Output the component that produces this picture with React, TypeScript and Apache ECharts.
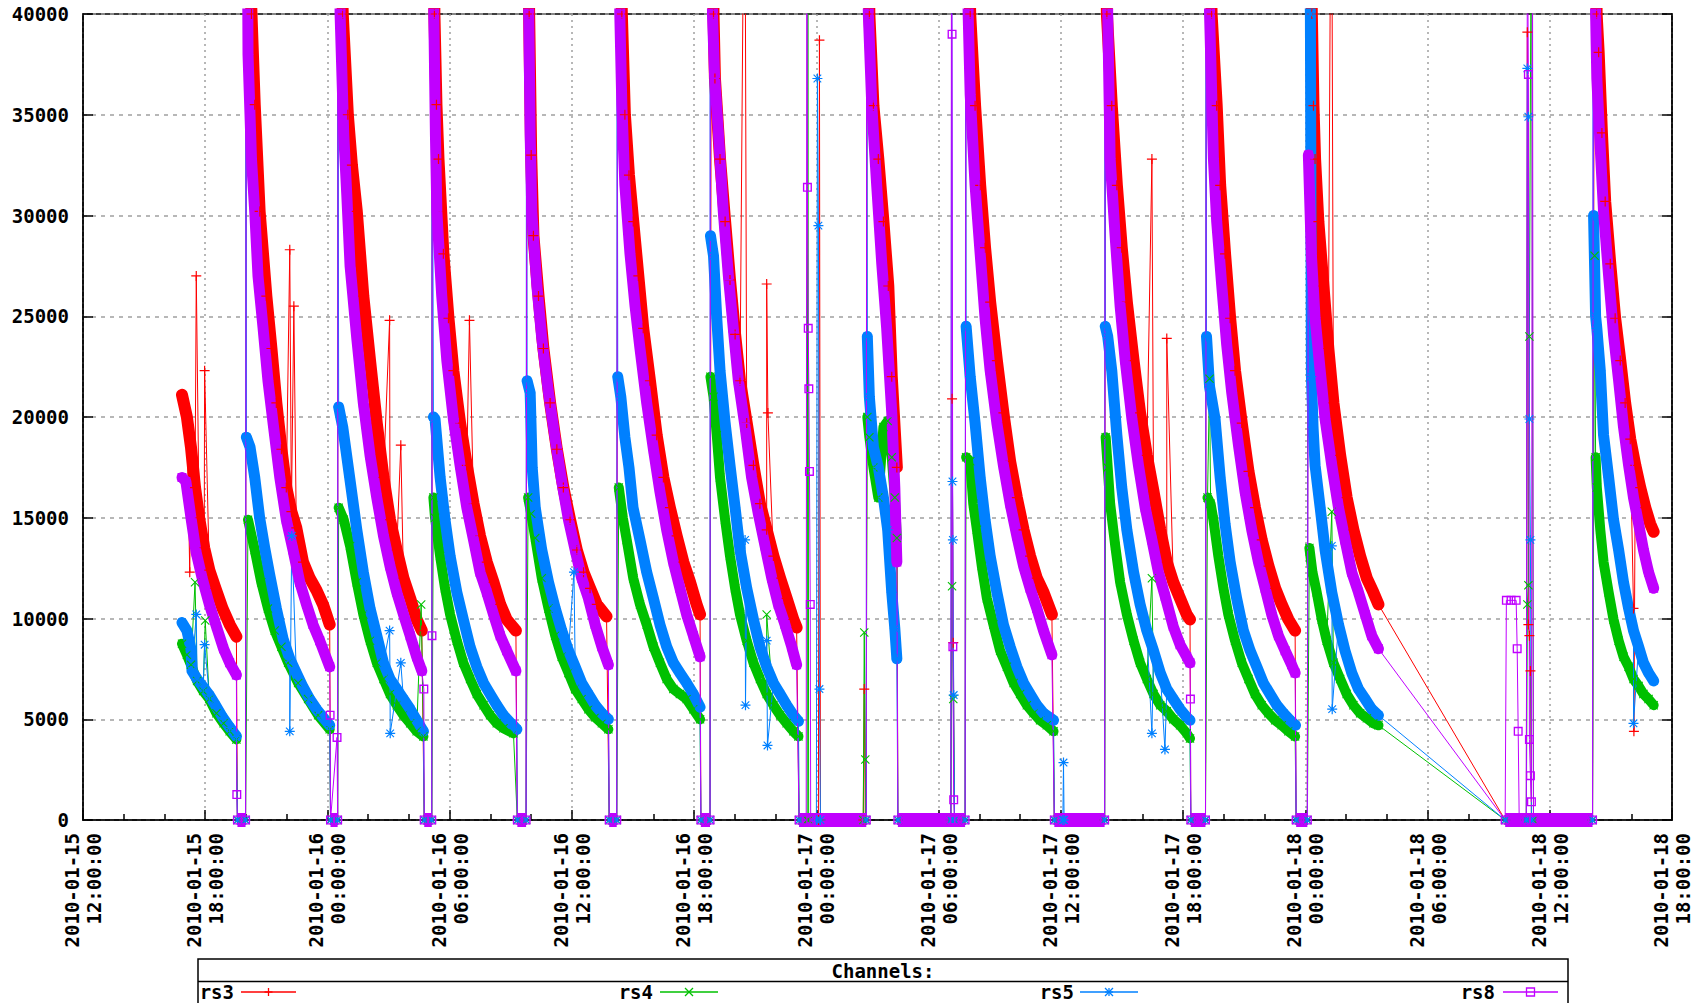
import React, { useEffect, useRef } from "react";
import * as echarts from "echarts";

// x values: hours after 2010-01-15 12:00:00
const X_MIN = 0;
const X_MAX = 78;
const Y_MAX = 40000;

const zeroSpans: [number, number][] = [
  [7.58, 7.98], [12.15, 12.5], [16.75, 17.12], [21.32, 21.75], [25.83, 26.2], [30.33, 30.78],
  [35.15, 38.45], [40.0, 43.3], [47.68, 50.15], [54.38, 55.1], [59.55, 60.1], [69.81, 74.1],
];

const rs3Cycles: [number, number][][] = [
  [[4.86,21100],[5.1,20000],[5.3,18500],[5.5,16500],[5.7,15000],[5.95,13500],[6.2,12400],[6.5,11500],[6.85,10500],[7.2,9700],[7.53,9100]],
  [[8.02,48000],[8.27,40000],[8.43,35500],[8.67,30200],[9.0,26000],[9.25,23400],[9.49,20700],[9.74,18400],[9.98,16500],[10.23,15300],[10.47,14500],[10.8,12800],[11.13,12000],[11.46,11400],[11.78,10700],[12.11,9700]],
  [[12.52,50000],[12.75,40000],[13.0,35000],[13.2,32500],[13.44,30200],[13.76,26000],[14.09,22800],[14.42,19700],[14.75,17000],[15.07,14900],[15.4,13400],[15.73,12000],[16.06,11000],[16.38,9950],[16.63,9400]],
  [[17.15,50000],[17.25,40000],[17.35,35500],[17.45,32800],[17.69,28100],[17.94,24900],[18.18,22300],[18.51,19700],[18.84,17600],[19.17,15700],[19.49,14100],[19.82,12800],[20.15,11800],[20.48,10700],[20.8,9950],[21.25,9400]],
  [[21.8,50000],[21.9,40000],[22.0,33000],[22.11,29000],[22.36,26000],[22.6,23400],[22.93,20700],[23.26,18400],[23.58,16500],[23.91,14900],[24.24,13400],[24.57,12300],[24.89,11500],[25.22,10700],[25.7,10100]],
  [[26.25,50000],[26.45,40000],[26.6,35000],[26.8,32000],[27.01,29700],[27.26,27000],[27.5,24400],[27.83,21800],[28.16,19100],[28.49,17000],[28.81,15500],[29.14,14100],[29.47,12800],[29.8,11800],[30.12,10700],[30.29,10200]],
  [[30.85,50000],[30.95,40000],[31.02,36800],[31.27,32800],[31.52,29700],[31.76,26800],[32.01,24100],[32.25,21800],[32.58,19700],[32.91,17600],[33.23,15700],[33.56,14400],[33.89,13100],[34.22,12000],[34.54,11000],[34.87,9950],[35.03,9550]],
  [[38.5,50000],[38.6,40000],[38.8,35450],[39.04,32800],[39.29,29700],[39.53,26500],[39.7,22000],[39.95,17500]],
  [[43.35,50000],[43.55,40000],[43.79,35450],[44.04,31500],[44.28,28400],[44.53,25700],[44.86,22800],[45.18,20200],[45.51,17800],[45.84,16000],[46.17,14400],[46.49,13100],[46.82,12000],[47.15,11300],[47.56,10200]],
  [[50.2,50000],[50.26,40000],[50.5,35450],[50.75,31500],[50.99,28400],[51.24,25700],[51.57,22800],[51.89,20200],[52.22,18100],[52.55,16300],[52.88,14400],[53.2,12800],[53.52,11800],[53.85,11000],[54.18,10200],[54.34,9950]],
  [[55.15,50000],[55.4,40000],[55.65,35450],[55.82,31500],[56.06,28100],[56.31,24900],[56.55,22300],[56.88,19700],[57.21,17300],[57.53,15500],[57.86,13900],[58.19,12600],[58.52,11500],[58.84,10700],[59.17,9950],[59.5,9400]],
  [[60.15,50000],[60.32,40000],[60.4,35450],[60.48,32800],[60.64,29700],[60.89,26500],[61.13,23400],[61.38,20700],[61.71,18100],[62.03,16000],[62.36,14400],[62.69,13100],[63.02,12000],[63.34,11300],[63.59,10700]],
  [[74.2,50000],[74.3,40000],[74.4,38100],[74.56,34100],[74.72,30700],[74.97,27600],[75.21,24900],[75.46,22800],[75.7,20700],[75.95,18900],[76.2,17600],[76.44,16500],[76.69,15500],[76.93,14700],[77.1,14300]],
];
const rs3Spikes: [number, number][] = [
  [5.24,12300],[5.56,27000],[5.97,22300],[10.15,28300],[10.35,25500],[15.05,24800],[15.6,18600],[18.97,24800],
  [32.48,52000],[33.56,26600],[33.62,20200],[36.1,0],[36.15,38700],[36.2,0],[38.3,0],[38.35,6500],[38.4,0],
  [42.6,0],[42.66,20900],[42.72,8800],[42.78,0],[52.47,32800],[53.2,23900],[61.28,52000],
  [70.85,0],[70.9,39100],[70.95,9700],[71.0,9150],[71.05,7400],[71.1,0],[76.11,10500],[76.13,4400],
];

const rs4Cycles: [number, number][][] = [
  [[4.86,8750],[5.1,8200],[5.3,7700],[5.6,6900],[5.9,6400],[6.2,6000],[6.55,5300],[6.9,4800],[7.2,4400],[7.53,4000]],
  [[8.1,14900],[8.43,13400],[8.75,11800],[9.08,10500],[9.41,9400],[9.74,8600],[10.07,7800],[10.56,6800],[11.05,6000],[11.54,5200],[12.11,4500]],
  [[12.55,15500],[12.8,14900],[13.11,13600],[13.44,11800],[13.76,10200],[14.09,8900],[14.42,7800],[14.75,7000],[15.07,6250],[15.4,5700],[15.73,5200],[16.06,4800],[16.38,4400],[16.71,4150]],
  [[17.2,16000],[17.28,15000],[17.53,13100],[17.77,11500],[18.02,10200],[18.35,8900],[18.67,7800],[19.0,7000],[19.33,6250],[19.66,5700],[19.98,5200],[20.31,4800],[20.64,4550],[21.13,4300]],
  [[21.85,16000],[22.0,15200],[22.2,14000],[22.52,12000],[22.85,10500],[23.18,9150],[23.5,8100],[23.83,7300],[24.16,6500],[24.48,6000],[24.81,5500],[25.14,5100],[25.47,4800],[25.79,4500]],
  [[26.3,16500],[26.5,15000],[26.69,13900],[27.01,12000],[27.34,10700],[27.67,9700],[28.0,8600],[28.32,7800],[28.65,7000],[28.98,6500],[29.3,6250],[29.63,6000],[29.96,5500],[30.29,5000]],
  [[30.8,22000],[30.95,21000],[31.11,19100],[31.27,17000],[31.52,14900],[31.76,13100],[32.01,11500],[32.25,10200],[32.58,8900],[32.91,7800],[33.23,7000],[33.56,6250],[33.89,5700],[34.22,5200],[34.54,4800],[34.87,4400],[35.12,4150]],
  [[38.5,20000],[38.6,19000],[38.8,17500],[39.04,16000],[39.29,19500],[39.5,19800],[39.7,18000],[39.85,16000],[39.95,14000]],
  [[43.35,18000],[43.55,17800],[43.7,15700],[43.88,14400],[44.12,12600],[44.37,11000],[44.69,9700],[45.02,8400],[45.35,7600],[45.68,6800],[46.0,6250],[46.33,5700],[46.66,5300],[46.98,4950],[47.31,4700],[47.64,4400]],
  [[50.2,19000],[50.3,17500],[50.42,15700],[50.67,13600],[50.91,11800],[51.24,10200],[51.57,8900],[51.89,7800],[52.22,7000],[52.55,6250],[52.88,5700],[53.2,5400],[53.52,5000],[53.85,4700],[54.18,4300],[54.34,4050]],
  [[55.2,16000],[55.35,15700],[55.49,14900],[55.73,13100],[55.98,11500],[56.22,10200],[56.55,8900],[56.88,7800],[57.21,7000],[57.53,6250],[57.86,5700],[58.19,5300],[58.52,4950],[58.84,4700],[59.17,4400],[59.5,4150]],
  [[60.2,13500],[60.35,12300],[60.56,11300],[60.81,9950],[61.05,8900],[61.38,7800],[61.71,7000],[62.03,6250],[62.36,5700],[62.69,5300],[63.02,5050],[63.34,4800],[63.59,4700]],
  [[74.25,18000],[74.31,16500],[74.48,14400],[74.64,12800],[74.89,11300],[75.13,9950],[75.38,8900],[75.62,8100],[75.87,7600],[76.11,7000],[76.36,6650],[76.6,6250],[76.85,6000],[77.1,5700]],
];
const rs4Spikes: [number, number][] = [
  [5.5,11800],[6.0,9900],[16.6,10700],[33.56,10200],
  [35.55,0],[35.58,48000],[35.62,0],[38.3,0],[38.35,9300],[38.4,3000],[38.43,0],
  [42.6,0],[42.66,11600],[42.72,6000],[42.78,0],[52.47,12000],[55.3,21900],[61.3,15300],
  [70.85,0],[70.9,10700],[70.95,11650],[71.0,24000],[71.1,48000],[71.2,0],[74.2,28000],
];

const rs5Cycles: [number, number][][] = [
  [[4.86,9800],[5.1,9400],[5.3,8500],[5.35,7400],[5.6,7000],[5.9,6600],[6.2,6200],[6.5,5700],[6.85,5100],[7.2,4600],[7.53,4150]],
  [[8.02,19000],[8.2,18500],[8.43,17000],[8.67,15000],[8.92,13500],[9.16,12200],[9.49,10500],[9.82,9000],[10.15,8000],[10.47,7300],[10.8,6600],[11.13,6000],[11.46,5500],[11.78,5100],[12.11,4700]],
  [[12.55,20500],[12.75,19500],[13.09,17000],[13.44,14400],[13.76,12300],[14.09,10500],[14.42,9150],[14.75,7800],[15.07,7000],[15.4,6500],[15.73,6000],[16.06,5500],[16.38,4950],[16.71,4400]],
  [[17.2,20000],[17.28,19900],[17.53,17000],[17.77,14900],[18.02,13100],[18.35,11300],[18.67,9950],[19.0,8600],[19.33,7600],[19.66,6800],[19.98,6250],[20.31,5700],[20.64,5200],[21.0,4800],[21.3,4500]],
  [[21.8,21800],[21.95,21200],[22.05,17500],[22.2,15500],[22.52,13400],[22.85,11800],[23.18,10500],[23.5,9400],[23.83,8400],[24.16,7600],[24.48,6800],[24.81,6250],[25.14,5700],[25.47,5300],[25.79,5000]],
  [[26.25,22000],[26.4,21000],[26.6,19000],[26.8,17500],[27.0,15500],[27.34,13900],[27.67,12300],[28.0,11000],[28.32,9700],[28.65,8600],[28.98,7800],[29.3,7300],[29.63,6800],[29.96,6250],[30.29,5600]],
  [[30.8,29000],[30.95,28000],[31.11,24900],[31.27,22300],[31.52,19700],[31.76,17600],[32.01,15500],[32.25,13400],[32.58,11500],[32.91,9950],[33.23,8600],[33.56,7600],[33.89,6800],[34.22,6250],[34.54,5700],[34.87,5200],[35.12,4900]],
  [[38.5,24000],[38.6,21000],[38.8,18500],[39.04,17500],[39.29,16000],[39.5,14400],[39.7,11300],[39.85,9500],[39.95,8000]],
  [[43.35,24500],[43.55,22000],[43.79,19700],[44.04,17000],[44.28,14900],[44.53,13100],[44.86,11300],[45.18,9700],[45.51,8600],[45.84,7600],[46.17,6800],[46.49,6250],[46.82,5700],[47.15,5300],[47.64,4950]],
  [[50.18,24500],[50.3,24000],[50.5,22300],[50.75,19100],[50.99,16500],[51.24,14400],[51.57,12300],[51.89,10700],[52.22,9400],[52.55,8400],[52.88,7300],[53.2,6500],[53.52,6000],[53.85,5500],[54.18,5100],[54.34,4950]],
  [[55.15,24000],[55.3,21500],[55.57,19900],[55.82,17000],[56.06,14700],[56.31,12800],[56.63,11000],[56.96,9400],[57.29,8400],[57.62,7600],[57.94,6800],[58.27,6250],[58.6,5700],[58.93,5300],[59.25,4950],[59.52,4700]],
  [[60.15,45000],[60.25,40000],[60.3,22000],[60.38,19500],[60.48,17600],[60.73,15500],[60.97,13400],[61.3,11300],[61.63,9700],[61.95,8400],[62.28,7300],[62.61,6500],[62.94,6000],[63.26,5500],[63.59,5200]],
  [[74.15,30000],[74.25,25000],[74.31,24400],[74.48,22300],[74.64,19100],[74.89,17000],[75.13,14900],[75.38,13400],[75.62,11800],[75.87,10500],[76.11,9400],[76.36,8600],[76.6,7800],[76.85,7300],[77.1,6900]],
];
const rs5Spikes: [number, number][] = [
  [8.0,45000],[12.51,45000],[17.13,45000],[21.77,45000],[26.22,45000],[30.79,45000],[38.47,45000],[43.33,45000],[50.17,45000],[55.13,45000],[74.13,45000],
  [5.56,10200],[5.97,8700],[10.15,4400],[10.25,14100],[15.05,9400],[15.08,4300],[15.6,7800],[24.1,12300],
  [32.5,13900],[32.52,5700],[33.56,8900],[33.6,3700],
  [36.0,0],[36.05,36800],[36.1,29500],[36.15,6500],[36.2,0],
  [42.6,0],[42.64,45000],[42.68,16800],[42.7,13900],[42.74,6200],[42.78,0],
  [48.1,0],[48.13,2850],[48.16,0],[52.47,4300],[53.11,3500],[61.3,13600],[61.32,5500],
  [70.85,0],[70.9,37300],[70.95,34900],[71.0,19900],[71.05,13900],[71.1,0],[76.11,4800],
];

const rs8Cycles: [number, number][][] = [
  [[4.86,17000],[5.05,16800],[5.3,15000],[5.55,13300],[5.85,12000],[6.2,10700],[6.55,9600],[6.9,8500],[7.2,7800],[7.53,7200]],
  [[8.02,55000],[8.1,38000],[8.27,32800],[8.43,30200],[8.59,27000],[8.84,24400],[9.08,21800],[9.33,19700],[9.66,17000],[9.98,14900],[10.31,13400],[10.64,11800],[10.97,10700],[11.29,9700],[11.62,8900],[12.11,7600]],
  [[12.52,55000],[12.62,40000],[12.8,34000],[12.95,31000],[13.11,27500],[13.44,23900],[13.76,20700],[14.09,18100],[14.42,16000],[14.75,14100],[15.07,12600],[15.4,11300],[15.73,10200],[16.06,9150],[16.38,8100],[16.63,7400]],
  [[17.15,55000],[17.22,40000],[17.3,34000],[17.37,30200],[17.61,26000],[17.86,22800],[18.18,19900],[18.51,17600],[18.84,15500],[19.17,13900],[19.49,12300],[19.82,11300],[20.15,10200],[20.48,9150],[20.8,8400],[21.25,7400]],
  [[21.8,55000],[21.88,40000],[21.95,34000],[22.03,30200],[22.28,26500],[22.52,23900],[22.85,21200],[23.18,18900],[23.5,16800],[23.83,14900],[24.16,13400],[24.48,12000],[24.81,11000],[25.14,9700],[25.47,8600],[25.79,7700]],
  [[26.25,55000],[26.35,40000],[26.45,35500],[26.6,31500],[26.85,28100],[27.1,25500],[27.34,23400],[27.67,20700],[28.0,18400],[28.32,16300],[28.65,14400],[28.98,12800],[29.3,11500],[29.63,10200],[29.96,9150],[30.29,8100]],
  [[30.8,55000],[30.9,40000],[31.0,37000],[31.19,34100],[31.43,30200],[31.68,27000],[31.92,24400],[32.17,21800],[32.5,19500],[32.82,17000],[33.15,15200],[33.48,13600],[33.81,12000],[34.13,10700],[34.46,9700],[34.79,8600],[35.03,7700]],
  [[38.47,55000],[38.55,40000],[38.72,35450],[38.96,31500],[39.21,27600],[39.45,24400],[39.7,20200],[39.85,16500],[39.95,12800]],
  [[43.35,55000],[43.45,40000],[43.55,36000],[43.79,31500],[44.04,28100],[44.28,24900],[44.53,22300],[44.86,19700],[45.18,17600],[45.51,15700],[45.84,14100],[46.17,12600],[46.49,11500],[46.82,10500],[47.15,9400],[47.56,8200]],
  [[50.18,55000],[50.3,40000],[50.42,32800],[50.67,28900],[50.91,25500],[51.16,22800],[51.49,19900],[51.81,17600],[52.14,15500],[52.47,13900],[52.79,12300],[53.12,11100],[53.52,9600],[53.85,8700],[54.18,8100],[54.34,7800]],
  [[55.15,55000],[55.3,40000],[55.49,32800],[55.65,29700],[55.9,26500],[56.14,23600],[56.39,21200],[56.72,18600],[57.04,16300],[57.37,14400],[57.7,12800],[58.03,11500],[58.35,10200],[58.68,9150],[59.01,8400],[59.33,7700],[59.5,7300]],
  [[60.15,33000],[60.3,28000],[60.48,24900],[60.73,22300],[60.97,19900],[61.3,17600],[61.63,15500],[61.95,13900],[62.28,12300],[62.61,11300],[62.94,10200],[63.26,9150],[63.59,8500]],
  [[74.15,55000],[74.25,40000],[74.31,36800],[74.48,33300],[74.64,30200],[74.89,27000],[75.13,24100],[75.38,21800],[75.62,19500],[75.87,17600],[76.11,16000],[76.36,14700],[76.6,13400],[76.85,12300],[77.1,11500]],
];
const rs8Spikes: [number, number][] = [
  [7.55,1260],[12.13,5200],[12.47,4100],[16.73,6500],[17.13,9150],
  [35.5,0],[35.53,48000],[35.56,31400],[35.6,24400],[35.63,21400],[35.66,17300],[35.7,10700],[35.72,0],
  [42.6,0],[42.63,45000],[42.66,39000],[42.7,8600],[42.74,1000],[42.78,0],[54.36,6000],
  [69.87,10900],[70.1,10900],[70.35,10900],[70.4,8500],[70.45,4400],[70.5,0],
  [70.85,0],[70.9,45000],[70.95,37000],[71.0,4000],[71.05,2200],[71.1,900],[71.15,45000],[71.2,0],
];

const channels = [
  { name: "rs3", color: "#ff0000", cycles: rs3Cycles, spikes: rs3Spikes, band: 12, symbol: "path://M0,4.4H10V5.6H0Z M4.4,0H5.6V10H4.4Z", size: 10 },
  { name: "rs4", color: "#00c000", cycles: rs4Cycles, spikes: rs4Spikes, band: 10, symbol: "path://M0,0.85L0.85,0L10,9.15L9.15,10Z M9.15,0L10,0.85L0.85,10L0,9.15Z", size: 9 },
  { name: "rs5", color: "#0080ff", cycles: rs5Cycles, spikes: rs5Spikes, band: 11, symbol: "path://M0,4.4H10V5.6H0Z M4.4,0H5.6V10H4.4Z M0.8,1.6L1.6,0.8L9.2,8.4L8.4,9.2Z M8.4,0.8L9.2,1.6L1.6,9.2L0.8,8.4Z", size: 10 },
  { name: "rs8", color: "#c000ff", cycles: rs8Cycles, spikes: rs8Spikes, band: 11, symbol: "path://M0,0H10V10H0Z M1.5,1.5V8.5H8.5V1.5Z", size: 9 },
];

const FONT = '"DejaVu Sans Mono", "Liberation Mono", monospace';

function fmtX(h: number): string {
  const total = 12 + h;
  const day = 15 + Math.floor(total / 24);
  const hr = ((total % 24) + 24) % 24;
  return `2010-01-${String(day).padStart(2, "0")}\n${String(hr).padStart(2, "0")}:00:00`;
}

function buildTrace(cycles: [number, number][][], spikes: [number, number][]) {
  const pts: [number, number][] = [];
  cycles.forEach((c) => pts.push(...c));
  zeroSpans.forEach(([a, b]) => pts.push([a, 0], [b, 0]));
  pts.push(...spikes);
  pts.sort((p, q) => p[0] - q[0]);
  return pts;
}

function buildBand(cycles: [number, number][][]) {
  const out: any[] = [];
  cycles.forEach((c) => {
    out.push(...c);
    out.push([c[c.length - 1][0] + 0.01, null]);
  });
  return out;
}

function buildZeroBand() {
  const out: any[] = [];
  zeroSpans.forEach(([a, b]) => {
    out.push([a, 0], [b, 0], [b + 0.01, null]);
  });
  return out;
}

export default function App() {
  const ref = useRef<HTMLDivElement>(null);
  useEffect(() => {
    if (!ref.current) return;
    const chart = echarts.init(ref.current, undefined, { renderer: "svg" });
    const series: any[] = [];
    channels.forEach((ch) => {
      series.push({
        name: ch.name + "-band",
        type: "line",
        data: buildBand(ch.cycles),
        showSymbol: false,
        connectNulls: false,
        clip: true,
        lineStyle: { color: ch.color, width: ch.band, cap: "round", join: "round" },
        itemStyle: { color: ch.color },
        silent: true,
      });
      series.push({
        name: ch.name,
        type: "line",
        data: buildTrace(ch.cycles, ch.spikes),
        showSymbol: true,
        symbol: ch.symbol,
        symbolSize: ch.size,
        clip: true,
        lineStyle: { color: ch.color, width: 1 },
        itemStyle: { color: ch.color },
        silent: true,
      });
    });
    series.push({
      name: "rs8-zero",
      type: "line",
      data: buildZeroBand(),
      showSymbol: false,
      clip: true,
      lineStyle: { color: "#c000ff", width: 14 },
      silent: true,
    });

    const legendItems = [
      { name: "rs3", color: "#ff0000", tx: 234, x1: 241, x2: 296, kind: "plus" },
      { name: "rs4", color: "#00c000", tx: 653, x1: 660, x2: 718, kind: "cross" },
      { name: "rs5", color: "#0080ff", tx: 1074, x1: 1080, x2: 1138, kind: "star" },
      { name: "rs8", color: "#c000ff", tx: 1495, x1: 1503, x2: 1558, kind: "square" },
    ];
    const ly = 992;
    const graphics: any[] = [
      { type: "rect", shape: { x: 198, y: 959, width: 1370, height: 60 }, style: { fill: "none", stroke: "#000", lineWidth: 1.5 } },
      { type: "line", shape: { x1: 198, y1: 981.5, x2: 1568, y2: 981.5 }, style: { stroke: "#000", lineWidth: 1.5 } },
      { type: "text", x: 883, y: 971, style: { text: "Channels:", font: `bold 19px ${FONT}`, fill: "#000", align: "center", verticalAlign: "middle" } },
    ];
    legendItems.forEach((it) => {
      graphics.push({ type: "text", x: it.tx, y: ly, style: { text: it.name, font: `bold 19px ${FONT}`, fill: "#000", align: "right", verticalAlign: "middle" } });
      graphics.push({ type: "line", shape: { x1: it.x1, y1: ly, x2: it.x2, y2: ly }, style: { stroke: it.color, lineWidth: 1.5 } });
      const cx = (it.x1 + it.x2) / 2;
      const r = 4;
      const st = { stroke: it.color, lineWidth: 1.3, fill: "none" };
      if (it.kind === "plus" || it.kind === "star") {
        graphics.push({ type: "line", shape: { x1: cx - r, y1: ly, x2: cx + r, y2: ly }, style: st });
        graphics.push({ type: "line", shape: { x1: cx, y1: ly - r, x2: cx, y2: ly + r }, style: st });
      }
      if (it.kind === "cross" || it.kind === "star") {
        graphics.push({ type: "line", shape: { x1: cx - r, y1: ly - r, x2: cx + r, y2: ly + r }, style: st });
        graphics.push({ type: "line", shape: { x1: cx - r, y1: ly + r, x2: cx + r, y2: ly - r }, style: st });
      }
      if (it.kind === "square") {
        graphics.push({ type: "rect", shape: { x: cx - r, y: ly - r, width: 2 * r, height: 2 * r }, style: st });
      }
    });

    chart.setOption({
      animation: false,
      backgroundColor: "#ffffff",
      grid: { left: 83, right: 34, top: 14, bottom: 183, show: true, borderColor: "#000", borderWidth: 1.5, backgroundColor: "transparent" },
      xAxis: {
        type: "value",
        min: X_MIN,
        max: X_MAX,
        interval: 6,
        axisLine: { show: true, lineStyle: { color: "#000", width: 1.5 } },
        axisTick: { show: true, inside: true, length: 10, lineStyle: { color: "#000", width: 1.5 } },
        minorTick: { show: true, splitNumber: 3, length: 6, lineStyle: { color: "#000", width: 1.5 } },
        splitLine: { show: true, lineStyle: { color: "#a0a0a0", type: [2, 4], width: 1.5 } },
        axisLabel: {
          rotate: 90,
          formatter: (v: number) => fmtX(v),
          fontFamily: FONT,
          fontSize: 19,
          fontWeight: "bold",
          color: "#000",
          margin: 13,
          lineHeight: 22,
          showMinLabel: true,
          showMaxLabel: true,
        },
      },
      yAxis: [
        {
          type: "value",
          min: 0,
          max: Y_MAX,
          interval: 5000,
          axisLine: { show: true, lineStyle: { color: "#000", width: 1.5 } },
          axisTick: { show: true, inside: true, length: 10, lineStyle: { color: "#000", width: 1.5 } },
          splitLine: { show: true, lineStyle: { color: "#a0a0a0", type: [4, 5], width: 1.5 } },
          axisLabel: { fontFamily: FONT, fontSize: 19, fontWeight: "bold", color: "#000", margin: 14, formatter: (v: number) => String(v) },
        },
        {
          type: "value",
          position: "right",
          min: 0,
          max: Y_MAX,
          interval: 5000,
          axisLine: { show: true, lineStyle: { color: "#000", width: 1.5 } },
          axisTick: { show: true, inside: true, length: 10, lineStyle: { color: "#000", width: 1.5 } },
          splitLine: { show: false },
          axisLabel: { show: false },
        },
      ],
      series,
      graphic: graphics,
    });
    return () => chart.dispose();
  }, []);
  return <div ref={ref} style={{ position: "absolute", left: 0, top: 0, width: 1706, height: 1003 }} />;
}
